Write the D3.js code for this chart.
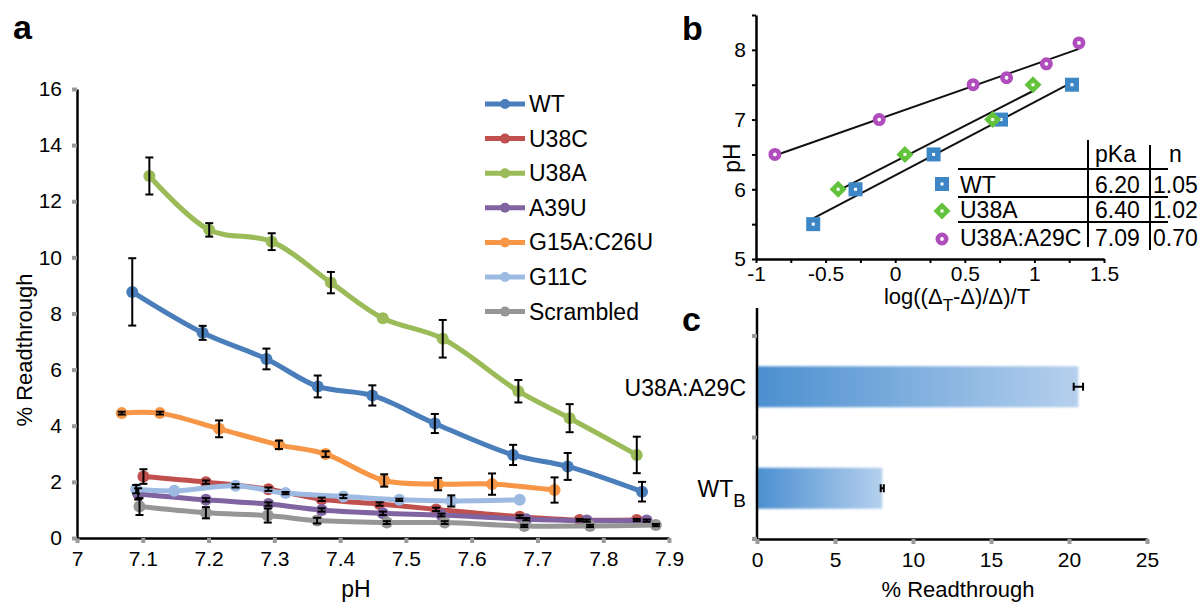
<!DOCTYPE html>
<html>
<head>
<meta charset="utf-8">
<script src="https://cdn.jsdelivr.net/npm/d3@7"></script>
<style>
  body { margin: 0; background: #fff; }
  svg { font-family: "Liberation Sans", Arial, sans-serif; }
</style>
</head>
<body>
<svg id="chart" width="1202" height="604"></svg>
<script>
// ---- panel a data: % readthrough vs pH ----
const seriesNames = ["WT", "U38C", "U38A", "A39U", "G15A:C26U", "G11C", "Scrambled"];
const seriesColors = ["#4a7ebb", "#c0504d", "#9bbb59", "#8064a2", "#f79646", "#9dbbe2", "#969696"];

const phWT = [7.084, 7.191, 7.288, 7.366, 7.449, 7.544, 7.663, 7.746, 7.859];
const valWT = [8.77, 7.31, 6.38, 5.40, 5.08, 4.08, 2.96, 2.55, 1.65];
const errWT = [1.2, 0.25, 0.37, 0.39, 0.36, 0.34, 0.36, 0.48, 0.35];

const phU38C = [7.101, 7.196, 7.291, 7.372, 7.46, 7.546, 7.673, 7.764, 7.851];
const valU38C = [2.19, 1.99, 1.74, 1.38, 1.21, 1.02, 0.76, 0.64, 0.64];
const errU38C = [0.26, 0.06, 0.06, 0.06, 0.06, 0.06, 0.05, 0.04, 0.04];

const phU38A = [7.110, 7.201, 7.296, 7.386, 7.465, 7.556, 7.671, 7.749, 7.851];
const valU38A = [12.9, 10.98, 10.56, 9.10, 7.83, 7.10, 5.23, 4.27, 2.96];
const errU38A = [0.66, 0.24, 0.3, 0.38, 0, 0.67, 0.4, 0.5, 0.65];

const phA39U = [7.093, 7.196, 7.291, 7.372, 7.465, 7.554, 7.683, 7.775, 7.866];
const valA39U = [1.57, 1.36, 1.21, 1.0, 0.88, 0.82, 0.67, 0.62, 0.62];
const errA39U = [0.2, 0.06, 0.06, 0.06, 0.06, 0.05, 0.04, 0.04, 0.04];

const phG15A = [7.068, 7.126, 7.216, 7.307, 7.378, 7.467, 7.549, 7.631, 7.726];
const valG15A = [4.45, 4.45, 3.89, 3.32, 2.99, 2.05, 1.92, 1.92, 1.71];
const errG15A = [0.05, 0.05, 0.3, 0.15, 0.1, 0.22, 0.22, 0.38, 0.45];

const phG11C = [7.09, 7.148, 7.241, 7.317, 7.405, 7.49, 7.569, 7.673];
const valG11C = [1.74, 1.68, 1.86, 1.6, 1.48, 1.36, 1.32, 1.36];
const errG11C = [0.15, 0, 0.06, 0.04, 0.06, 0.04, 0.2, 0];

const phScr = [7.095, 7.196, 7.29, 7.365, 7.471, 7.559, 7.68, 7.78, 7.88];
const valScr = [1.12, 0.9, 0.8, 0.62, 0.55, 0.55, 0.43, 0.43, 0.46];
const errScr = [0.3, 0.2, 0.25, 0.1, 0.05, 0.05, 0.04, 0.04, 0.04];

const phTicks = [7, 7.1, 7.2, 7.3, 7.4, 7.5, 7.6, 7.7, 7.8, 7.9];
const readTicks = [0, 2, 4, 6, 8, 10, 12, 14, 16];

// ---- panel b data: Hill plot ----
const hillNames = ["WT", "U38A", "U38A:A29C"];
const hillColors = ["#3d86c6", "#62c23b", "#b04dbd"];
const hillX = [
  [-0.589, -0.285, 0.276, 0.76, 1.27],
  [-0.41, 0.07, 0.70, 0.99],
  [-0.864, -0.115, 0.56, 0.80, 1.086, 1.32]
];
const hillPH = [
  [5.5, 6.0, 6.5, 7.0, 7.5],
  [6.0, 6.5, 7.0, 7.5],
  [6.5, 7.0, 7.5, 7.6, 7.8, 8.1]
];
const pKa = [6.20, 6.40, 7.09];
const hillN = [1.05, 1.02, 0.70];
const hillXTicks = [-1, -0.5, 0, 0.5, 1, 1.5];
const hillYTicks = [5, 6, 7, 8];

// ---- panel c data ----
const barLabels = ["U38A:A29C", "WT_B"];
const barValues = [20.6, 8.03];
const barErr = [0.3, 0.1];
const barTicks = [0, 5, 10, 15, 20, 25];

const svg = d3.select("#chart");
const tickGrey = "#9a9a9a";

function styleAxis(g, tickColor, tickWidth) {
  g.select(".domain").attr("stroke", "#000").attr("stroke-width", 2.5);
  g.selectAll(".tick line").attr("stroke", tickColor).attr("stroke-width", tickWidth);
  g.selectAll(".tick text").attr("fill", "#000").attr("font-size", 21)
    .attr("font-family", "Liberation Sans, Arial, sans-serif");
}

// ================= panel a =================
const xA = d3.scaleLinear().domain([7, 7.9]).range([77, 669]);
const yA = d3.scaleLinear().domain([0, 16]).range([538, 89]);

svg.append("text").attr("x", 13).attr("y", 39)
  .attr("font-size", 34).attr("font-weight", "bold").text("a");

const gxA = svg.append("g").attr("transform", "translate(0,538)")
  .call(d3.axisBottom(xA).tickValues(phTicks).tickFormat(d => +d.toFixed(1))
    .tickSize(5).tickSizeOuter(0).tickPadding(8));
styleAxis(gxA, tickGrey, 4);

const gyA = svg.append("g").attr("transform", "translate(77,0)")
  .call(d3.axisLeft(yA).tickValues(readTicks).tickSize(5).tickSizeOuter(0).tickPadding(10));
styleAxis(gyA, tickGrey, 4);

svg.append("text").attr("x", 356).attr("y", 597).attr("text-anchor", "middle")
  .attr("font-size", 23).text("pH");
svg.append("text").attr("transform", "translate(32,350) rotate(-90)")
  .attr("text-anchor", "middle").attr("font-size", 22).text("% Readthrough");

const seriesA = [
  [phWT, valWT, errWT], [phU38C, valU38C, errU38C], [phU38A, valU38A, errU38A],
  [phA39U, valA39U, errA39U], [phG15A, valG15A, errG15A], [phG11C, valG11C, errG11C],
  [phScr, valScr, errScr]
].map((s, i) => ({
  name: seriesNames[i],
  color: seriesColors[i],
  values: s[0].map((p, j) => ({ ph: p, v: s[1][j], e: s[2][j] }))
}));

const lineA = d3.line().curve(d3.curveCatmullRom.alpha(0.5))
  .x(d => xA(d.ph)).y(d => yA(d.v));

const plotA = svg.append("g");
seriesA.forEach(s => {
  plotA.append("path").datum(s.values)
    .attr("d", lineA).attr("fill", "none")
    .attr("stroke", s.color).attr("stroke-width", 5);
  plotA.selectAll(null).data(s.values).join("circle")
    .attr("cx", d => xA(d.ph)).attr("cy", d => yA(d.v))
    .attr("r", 6).attr("fill", s.color);
});

// error bars on top
const errG = svg.append("g").attr("stroke", "#000").attr("stroke-width", 2);
seriesA.forEach(s => {
  s.values.filter(d => d.e > 0).forEach(d => {
    const cx = xA(d.ph), y1 = yA(d.v + d.e), y2 = yA(d.v - d.e);
    errG.append("line").attr("x1", cx).attr("x2", cx).attr("y1", y1).attr("y2", y2);
    errG.append("line").attr("x1", cx - 4).attr("x2", cx + 4).attr("y1", y1).attr("y2", y1);
    errG.append("line").attr("x1", cx - 4).attr("x2", cx + 4).attr("y1", y2).attr("y2", y2);
  });
});

// legend
const legA = svg.append("g").selectAll("g").data(seriesA).join("g")
  .attr("transform", (d, i) => `translate(485,${104 + i * 34.6})`);
legA.append("line").attr("x1", 0).attr("x2", 40)
  .attr("stroke", d => d.color).attr("stroke-width", 5);
legA.append("circle").attr("cx", 20).attr("r", 5).attr("fill", d => d.color);
legA.append("text").attr("x", 44).attr("y", 8).attr("font-size", 23).text(d => d.name);

// ================= panel b =================
const xB = d3.scaleLinear().domain([-1, 1.5]).range([756, 1104]);
const yB = d3.scaleLinear().domain([5, 8.5]).range([259, 15]);

svg.append("text").attr("x", 682).attr("y", 40)
  .attr("font-size", 34).attr("font-weight", "bold").text("b");

const gxB = svg.append("g").attr("transform", "translate(0,259)")
  .call(d3.axisBottom(xB).tickValues(d3.range(-1, 1.51, 0.25)).tickSize(4).tickSizeOuter(0)
    .tickPadding(3).tickFormat(d => hillXTicks.includes(+d.toFixed(2)) ? +d.toFixed(1) : ""));
styleAxis(gxB, "#000", 2);

const gyB = svg.append("g").attr("transform", "translate(756,0)")
  .call(d3.axisLeft(yB).tickValues(d3.range(5, 8.51, 0.5)).tickSize(4).tickSizeOuter(0)
    .tickPadding(6).tickFormat(d => hillYTicks.includes(d) ? d : ""));
styleAxis(gyB, "#000", 2);

svg.append("text").attr("transform", "translate(740,158) rotate(-90)")
  .attr("text-anchor", "middle").attr("font-size", 23).text("pH");

const xTitleB = svg.append("text").attr("x", 957).attr("y", 304)
  .attr("text-anchor", "middle").attr("font-size", 22);
xTitleB.append("tspan").text("log((Δ");
xTitleB.append("tspan").attr("dy", 7).attr("font-size", 17).text("T");
xTitleB.append("tspan").attr("dy", -7).text("-Δ)/Δ)/T");

// fit lines: pH = pKa + n * x
hillNames.forEach((nm, i) => {
  const ext = d3.extent(hillX[i]);
  svg.append("line")
    .attr("x1", xB(ext[0])).attr("y1", yB(pKa[i] + hillN[i] * ext[0]))
    .attr("x2", xB(ext[1])).attr("y2", yB(pKa[i] + hillN[i] * ext[1]))
    .attr("stroke", "#111").attr("stroke-width", 2);
});

function hillMarker(g, i, cx, cy) {
  const c = hillColors[i];
  if (i === 0) {
    g.append("rect").attr("x", cx - 7).attr("y", cy - 7).attr("width", 14).attr("height", 14).attr("fill", c);
    g.append("rect").attr("x", cx - 1.5).attr("y", cy - 1.5).attr("width", 3).attr("height", 3).attr("fill", "#fff");
  } else if (i === 1) {
    g.append("path").attr("d", `M${cx},${cy - 8.5}L${cx + 8.5},${cy}L${cx},${cy + 8.5}L${cx - 8.5},${cy}Z`).attr("fill", c);
    g.append("rect").attr("x", cx - 1.5).attr("y", cy - 1.5).attr("width", 3).attr("height", 3).attr("fill", "#fff");
  } else {
    g.append("circle").attr("cx", cx).attr("cy", cy).attr("r", 4.2)
      .attr("fill", "#fff").attr("stroke", c).attr("stroke-width", 4.6);
  }
}

const ptsB = svg.append("g");
hillNames.forEach((nm, i) => {
  hillX[i].forEach((xv, j) => hillMarker(ptsB, i, xB(xv), yB(hillPH[i][j])));
});

// table
const tbl = svg.append("g").attr("font-size", 23);
tbl.append("text").attr("x", 1095).attr("y", 162).text("pKa");
tbl.append("text").attr("x", 1169).attr("y", 162).text("n");
const rowY = [193, 218, 246];
const markY = [184, 211, 239];
hillNames.forEach((nm, i) => {
  hillMarker(tbl, i, 942, markY[i]);
  tbl.append("text").attr("x", 960).attr("y", rowY[i]).text(nm);
  tbl.append("text").attr("x", 1095).attr("y", rowY[i]).text(pKa[i].toFixed(2));
  tbl.append("text").attr("x", 1153).attr("y", rowY[i]).text(hillN[i].toFixed(2));
});
const tl = tbl.append("g").attr("stroke", "#000").attr("stroke-width", 2);
[169, 197, 222].forEach(y => tl.append("line").attr("x1", 958).attr("x2", 1168).attr("y1", y).attr("y2", y));
tl.append("line").attr("x1", 1088).attr("x2", 1088).attr("y1", 140).attr("y2", 247);
tl.append("line").attr("x1", 1150).attr("x2", 1150).attr("y1", 145).attr("y2", 250);

// ================= panel c =================
const xC = d3.scaleLinear().domain([0, 25]).range([757, 1147]);
const yC = d3.scaleBand().domain(barLabels).range([336, 539]).paddingInner(0.596).paddingOuter(0.298);

svg.append("text").attr("x", 682).attr("y", 331)
  .attr("font-size", 34).attr("font-weight", "bold").text("c");

const defs = svg.append("defs");
const grad = defs.append("linearGradient").attr("id", "barGrad")
  .attr("x1", 0).attr("x2", 1).attr("y1", 0).attr("y2", 0);
grad.append("stop").attr("offset", 0).attr("stop-color", "#4b8fd0");
grad.append("stop").attr("offset", 1).attr("stop-color", "#b5d0ed");
defs.append("filter").attr("id", "soft").append("feGaussianBlur").attr("stdDeviation", 0.8);

svg.append("g").selectAll("rect").data(barLabels).join("rect")
  .attr("x", xC(0)).attr("y", d => yC(d))
  .attr("width", (d, i) => xC(barValues[i]) - xC(0)).attr("height", yC.bandwidth())
  .attr("fill", "url(#barGrad)").attr("filter", "url(#soft)");

const gxC = svg.append("g").attr("transform", "translate(0,539)")
  .call(d3.axisBottom(xC).tickValues(barTicks).tickSize(5).tickSizeOuter(0).tickPadding(8));
styleAxis(gxC, tickGrey, 4);

// y axis of panel c (category boundaries)
const yAxC = svg.append("g");
yAxC.append("line").attr("x1", 757).attr("x2", 757).attr("y1", 308).attr("y2", 539)
  .attr("stroke", "#000").attr("stroke-width", 2.5);
[0, 1, 2].forEach(k => {
  const ty = yC.range()[0] + k * yC.step();
  yAxC.append("line").attr("x1", 752).attr("x2", 757).attr("y1", ty).attr("y2", ty)
    .attr("stroke", tickGrey).attr("stroke-width", 4);
});

const errC = svg.append("g").attr("stroke", "#000").attr("stroke-width", 2);
barLabels.forEach((d, i) => {
  const cy = yC(d) + yC.bandwidth() / 2;
  const x1 = xC(barValues[i] - barErr[i]), x2 = xC(barValues[i] + barErr[i]);
  errC.append("line").attr("x1", x1).attr("x2", x2).attr("y1", cy).attr("y2", cy);
  errC.append("line").attr("x1", x1).attr("x2", x1).attr("y1", cy - 4).attr("y2", cy + 4);
  errC.append("line").attr("x1", x2).attr("x2", x2).attr("y1", cy - 4).attr("y2", cy + 4);
});

barLabels.forEach((d, i) => {
  const cy = yC(d) + yC.bandwidth() / 2;
  const t = svg.append("text").attr("x", 746).attr("y", cy + 9)
    .attr("text-anchor", "end").attr("font-size", 23);
  const parts = d.split("_");
  t.append("tspan").text(parts[0]);
  if (parts[1]) t.append("tspan").attr("dy", 10).attr("font-size", 19).text(parts[1]);
});

svg.append("text").attr("x", 958).attr("y", 597).attr("text-anchor", "middle")
  .attr("font-size", 22).text("% Readthrough");
</script>
</body>
</html>
